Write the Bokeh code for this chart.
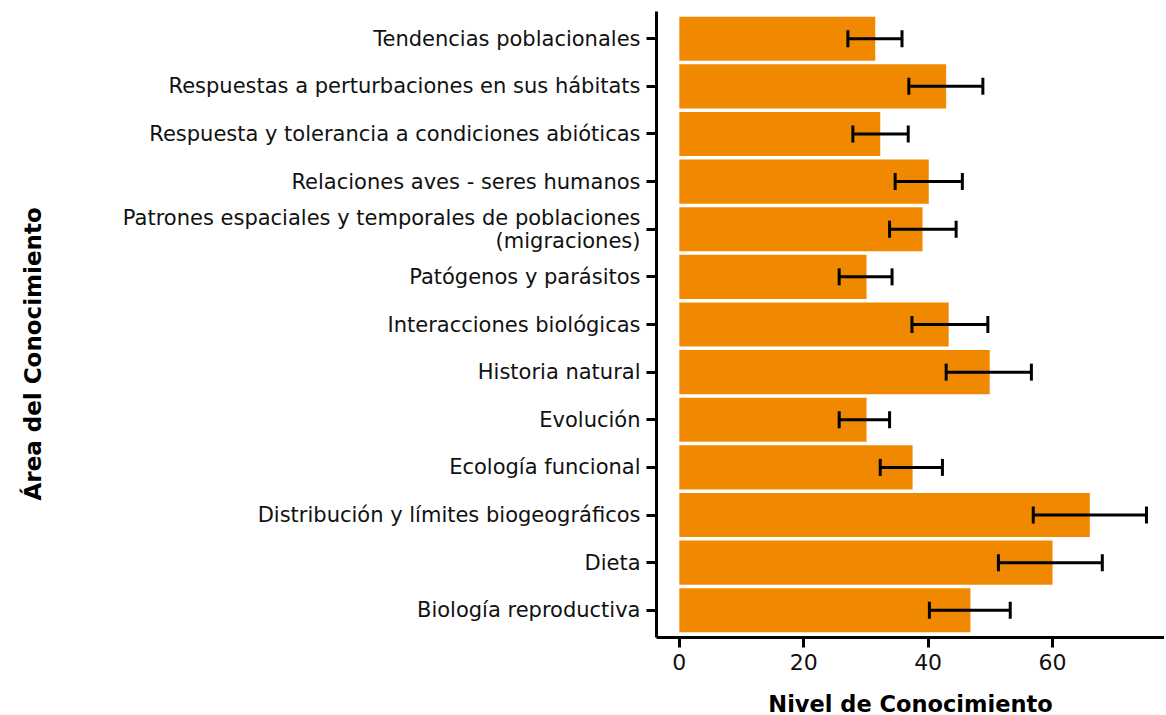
from bokeh.plotting import figure
from bokeh.models import FactorRange, Range1d, FixedTicker, Whisker, ColumnDataSource, TeeHead, Title
from bokeh.embed import file_html
from bokeh.resources import INLINE

categories = [
    "Tendencias poblacionales",
    "Respuestas a perturbaciones en sus hábitats",
    "Respuesta y tolerancia a condiciones abióticas",
    "Relaciones aves - seres humanos",
    "Patrones espaciales y temporales de poblaciones\n(migraciones)",
    "Patógenos y parásitos",
    "Interacciones biológicas",
    "Historia natural",
    "Evolución",
    "Ecología funcional",
    "Distribución y límites biogeográficos",
    "Dieta",
    "Biología reproductiva",
]
values = [31.5, 42.9, 32.3, 40.1, 39.1, 30.1, 43.3, 49.9, 30.1, 37.5, 66.0, 60.0, 46.8]
err_low = [27.1, 36.9, 27.9, 34.7, 33.8, 25.7, 37.4, 42.9, 25.7, 32.3, 56.9, 51.3, 40.2]
err_high = [35.8, 48.8, 36.8, 45.5, 44.5, 34.2, 49.6, 56.6, 33.8, 42.3, 75.1, 68.0, 53.2]
x_ticks = [0, 20, 40, 60]
x_title = "Nivel de Conocimiento"
y_title = "Área del Conocimiento"

src = ColumnDataSource(dict(cat=categories, val=values, lo=err_low, hi=err_high))

factors = list(reversed(categories))
yr = FactorRange(factors=factors, range_padding=0.011)
p = figure(width=1164, height=719, y_range=yr, x_range=Range1d(-3.67, 78.0),
           output_backend="svg", toolbar_location=None,
           min_border_left=652, min_border_top=11, min_border_right=0, min_border_bottom=0)

p.hbar(y="cat", right="val", left=0, height=0.925, source=src,
       fill_color="#F08800", line_color=None)

w = Whisker(base="cat", lower="lo", upper="hi", source=src, dimension="width",
            line_color="black", line_width=3, level="overlay",
            upper_head=TeeHead(size=17, line_width=3, line_color="black"),
            lower_head=TeeHead(size=17, line_width=3, line_color="black"))
p.add_layout(w)

p.outline_line_color = None
p.xgrid.visible = False
p.ygrid.visible = False

for ax in (p.xaxis[0], p.yaxis[0]):
    ax.axis_line_width = 3
    ax.axis_line_color = "black"
    ax.major_tick_line_width = 3
    ax.major_tick_line_color = "black"
    ax.major_tick_out = 10
    ax.major_tick_in = 0
    ax.minor_tick_line_color = None
    ax.major_label_text_color = "#111111"

p.xaxis.ticker = FixedTicker(ticks=x_ticks)
p.xaxis.major_label_text_font = "DejaVu Sans"
p.xaxis.major_label_text_font_size = "22px"
p.xaxis.major_label_standoff = 6
p.xaxis.axis_label = x_title
p.xaxis.axis_label_text_font = "DejaVu Sans"
p.xaxis.axis_label_text_font_style = "bold"
p.xaxis.axis_label_text_font_size = "22.5px"
p.xaxis.axis_label_text_color = "black"
p.xaxis.axis_label_standoff = 18

p.yaxis.major_label_text_font = "DejaVu Sans"
p.yaxis.major_label_text_font_size = "21px"
p.yaxis.major_label_standoff = 6
p.yaxis.major_label_text_align = "right"
p.yaxis.major_label_text_line_height = 0.95
# invisible spacer label so the side title sits at the far left
p.yaxis.axis_label = "\u00a0"
p.yaxis.axis_label_text_font_size = "12px"
p.yaxis.axis_label_standoff = 38

# y axis title as a side title, anchored from the frame bottom
p.add_layout(Title(text=y_title, align="left", offset=137, standoff=36,
                   vertical_align="middle",
                   text_font="DejaVu Sans", text_font_style="bold",
                   text_font_size="23px", text_color="black"), "left")

open("out.html", "w").write(file_html(p, INLINE))
